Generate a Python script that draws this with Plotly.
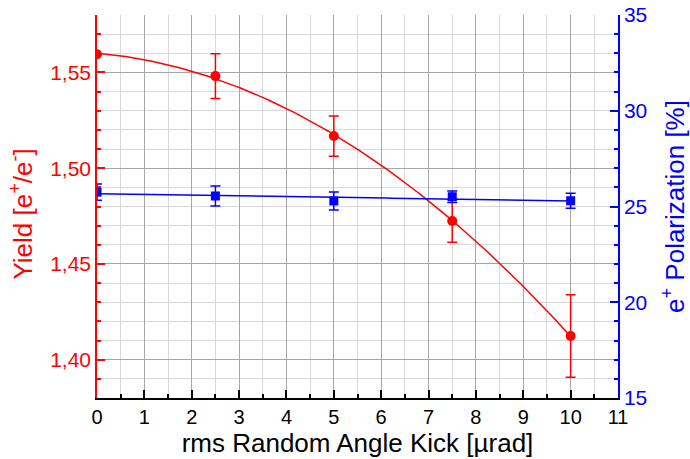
import numpy as np
import plotly.graph_objects as go

# Data
kick = [0, 2.5, 5, 7.5, 10]
yield_vals = [1.5595, 1.5481, 1.5168, 1.4724, 1.4124]
yield_err = [0.0, 0.0117, 0.0105, 0.0111, 0.0215]
pol_vals = [25.75, 25.55, 25.29, 25.51, 25.30]
pol_err = [0.42, 0.52, 0.47, 0.30, 0.39]

RED = "#ff0000"
BLUE = "#0000ff"

# fitted curves from the data
xf = np.linspace(0, 10, 200)
cy = np.polyfit(kick, yield_vals, 2)
cp = np.polyfit(kick, pol_vals, 1)

fig = go.Figure()
fig.add_trace(go.Scatter(x=xf, y=np.polyval(cy, xf), mode="lines",
                         line=dict(color=RED, width=1.5), showlegend=False))
fig.add_trace(go.Scatter(x=kick, y=yield_vals, mode="markers",
                         marker=dict(color=RED, size=10, symbol="circle"),
                         error_y=dict(type="data", array=yield_err, color=RED,
                                      thickness=1.5, width=5),
                         showlegend=False))
fig.add_trace(go.Scatter(x=xf, y=np.polyval(cp, xf), mode="lines", yaxis="y2",
                         line=dict(color=BLUE, width=1.5), showlegend=False))
fig.add_trace(go.Scatter(x=kick, y=pol_vals, mode="markers", yaxis="y2",
                         marker=dict(color=BLUE, size=9, symbol="square"),
                         error_y=dict(type="data", array=pol_err, color=BLUE,
                                      thickness=1.5, width=5),
                         showlegend=False))

font = "Liberation Sans, Arial, sans-serif"
fig.update_layout(
    width=690, height=459,
    margin=dict(l=97, r=72, t=15, b=61),
    paper_bgcolor="white", plot_bgcolor="white",
    separators=", ",
    font=dict(family=font, size=21, color="black"),
    xaxis=dict(
        range=[0, 11], tick0=0, dtick=1, ticks="inside", ticklen=8, tickwidth=1.5,
        tickcolor="black", showline=True, linecolor="black", linewidth=1.5,
        showgrid=True, gridcolor="#a6a6a6", gridwidth=1, zeroline=False,
        automargin=False,
        minor=dict(dtick=0.5, ticks="inside", ticklen=4, tickcolor="black",
                   showgrid=True, gridcolor="#d9d9d9", gridwidth=1),
        title=dict(text="rms Random Angle Kick [µrad]", font=dict(size=26), standoff=4),
        tickfont=dict(size=20),
    ),
    yaxis=dict(
        range=[1.38, 1.58], tick0=1.40, dtick=0.05, tickformat=".2f",
        ticks="inside", ticklen=8, tickwidth=1.5, tickcolor=RED,
        showline=True, linecolor=RED, linewidth=1.5, zeroline=False,
        showgrid=True, gridcolor="#a6a6a6", gridwidth=1, automargin=False,
        minor=dict(dtick=0.01, tick0=1.40, ticks="inside", ticklen=4, tickcolor=RED,
                   showgrid=True, gridcolor="#d9d9d9", gridwidth=1),
        tickfont=dict(color=RED, size=21),
    ),
    yaxis2=dict(
        range=[15, 35], tick0=15, dtick=5, overlaying="y", side="right",
        ticks="inside", ticklen=8, tickwidth=1.5, tickcolor=BLUE,
        showline=True, linecolor=BLUE, linewidth=1.5, zeroline=False, showgrid=False,
        automargin=False,
        minor=dict(dtick=1, ticks="inside", ticklen=4, tickcolor=BLUE),
        tickfont=dict(color=BLUE, size=21),
        title=dict(text="e<sup>+</sup> Polarization [%]", font=dict(color=BLUE, size=26), standoff=24),
    ),
    annotations=[dict(
        text="Yield [e<sup>+</sup>/e<sup>-</sup>]", textangle=-90,
        xref="paper", yref="paper", x=-0.145, y=0.48,
        xanchor="center", yanchor="middle", showarrow=False,
        font=dict(color=RED, size=26),
    )],
)

fig.write_html("out.html")
